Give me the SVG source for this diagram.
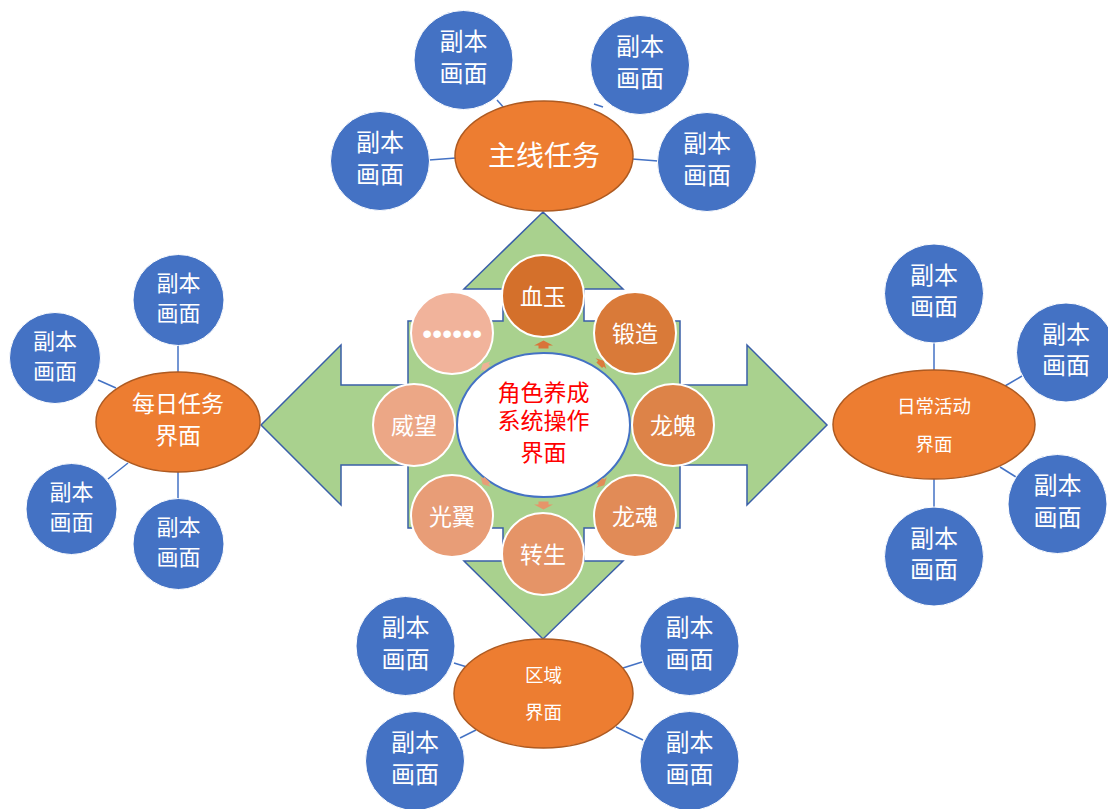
<svg xmlns="http://www.w3.org/2000/svg" width="1108" height="809" viewBox="0 0 1108 809">
<style>
  text { font-family: "Noto Sans CJK SC", "Noto Sans", sans-serif; text-anchor: middle; fill: #ffffff; }
  .blue { fill: #4472c4; stroke: #ffffff; stroke-width: 1; }
  .hub { fill: #ed7d31; stroke: #ae5a21; stroke-width: 1.5; }
  .sat { stroke: #ffffff; stroke-width: 2; }
  .link { stroke: #4472c4; stroke-width: 1.5; fill: none; }
  .b24 { font-size: 24px; }
  .b22 { font-size: 22px; }
  .s22 { font-size: 23px; }
  .red { fill: #ff0000; font-size: 23px; }
</style>
<defs>
  <polygon id="arr" points="0,-4 9.5,1 5,1 5,4 -5,4 -5,1 -9.5,1"/>
</defs>
<rect width="1108" height="809" fill="#ffffff"/>

<g id="connectors">
  <line class="link" x1="429" y1="160" x2="456" y2="158"/>
  <line class="link" x1="497" y1="100" x2="505" y2="109"/>
  <line class="link" x1="603" y1="107" x2="594" y2="104"/>
  <line class="link" x1="632" y1="159" x2="658" y2="161"/>
  <line class="link" x1="178" y1="345" x2="178" y2="372"/>
  <line class="link" x1="98" y1="380" x2="116" y2="388"/>
  <line class="link" x1="108" y1="479" x2="128" y2="463"/>
  <line class="link" x1="178" y1="472" x2="178" y2="499"/>
  <line class="link" x1="934" y1="343" x2="934" y2="370"/>
  <line class="link" x1="1005" y1="386" x2="1022" y2="376"/>
  <line class="link" x1="1000" y1="467" x2="1016" y2="477"/>
  <line class="link" x1="934" y1="479" x2="934" y2="507"/>
  <line class="link" x1="454" y1="663" x2="467" y2="667"/>
  <line class="link" x1="623" y1="668" x2="642" y2="662"/>
  <line class="link" x1="460" y1="738" x2="476" y2="730"/>
  <line class="link" x1="616" y1="727" x2="643" y2="740"/>
</g>

<g id="quad-arrow">
  <path d="M543,212 L623,289 L584,289 L584,321 L680,321 L680,385 L747,385 L747,345 L827,425 L747,505 L747,465 L680,465 L680,528 L584,528 L584,561 L623,561 L543,639 L464,561 L503,561 L503,528 L408,528 L408,465 L341,465 L341,505 L261,425 L341,345 L341,385 L408,385 L408,321 L503,321 L503,289 L464,289 Z" fill="#a9d18e" stroke="#3a5fa8" stroke-width="1.5"/>
</g>

<g id="center">
  <ellipse cx="543.5" cy="425" rx="86.5" ry="72" fill="#ffffff" stroke="#4472c4" stroke-width="2"/>
  <text class="red" x="543.5" y="401">角色养成</text>
  <text class="red" x="543.5" y="429">系统操作</text>
  <text class="red" x="543.5" y="461">界面</text>
</g>

<g id="cycle-arrows">
  <use href="#arr" fill="#d9743a" transform="translate(543.5,344.5)"/>
  <use href="#arr" fill="#dc7b3c" transform="translate(601.5,363) rotate(45) scale(0.8)"/>
  <use href="#arr" fill="#e28c58" transform="translate(602,483) rotate(135) scale(0.8)"/>
  <use href="#arr" fill="#e6956a" transform="translate(543.5,505.5) rotate(180)"/>
  <use href="#arr" fill="#e89d78" transform="translate(485,482) rotate(-135) scale(0.8)"/>
  <use href="#arr" fill="#f0b196" transform="translate(485,366) rotate(-45) scale(0.8)"/>
</g>

<g id="node-xueyu"><circle class="sat" cx="543" cy="296" r="41" fill="#d4702b"/><text class="s22" x="543" y="304.5">血玉</text></g>
<g id="node-duanzao"><circle class="sat" cx="635" cy="333" r="41" fill="#d97a39"/><text class="s22" x="635" y="341.5">锻造</text></g>
<g id="node-longpo"><circle class="sat" cx="673" cy="425" r="41" fill="#dd8348"/><text class="s22" x="673" y="433.5">龙魄</text></g>
<g id="node-longhun"><circle class="sat" cx="635" cy="516" r="41" fill="#e18b57"/><text class="s22" x="635" y="524.5">龙魂</text></g>
<g id="node-zhuansheng"><circle class="sat" cx="543" cy="554" r="41" fill="#e59467"/><text class="s22" x="543" y="562.5">转生</text></g>
<g id="node-guangyi"><circle class="sat" cx="452" cy="516" r="41" fill="#e89d77"/><text class="s22" x="452" y="524.5">光翼</text></g>
<g id="node-weiwang"><circle class="sat" cx="414" cy="425" r="41" fill="#eca786"/><text class="s22" x="414" y="433.5">威望</text></g>
<g id="node-more"><circle class="sat" cx="452" cy="333" r="41" fill="#f1b39b"/><text x="452.2" y="342.5" style="font-family:'Liberation Sans',sans-serif;font-size:28px;letter-spacing:0.2px">••••••</text></g>

<g id="hub-main"><ellipse class="hub" cx="544" cy="156" rx="89" ry="55"/><text x="544" y="165.5" style="font-size:28px">主线任务</text></g>
<g id="hub-daily"><ellipse class="hub" cx="178" cy="422" rx="82" ry="50"/><text x="178" y="412" style="font-size:23px">每日任务</text><text x="178" y="444" style="font-size:23px">界面</text></g>
<g id="hub-activity"><ellipse class="hub" cx="934" cy="424.5" rx="101" ry="54.5"/><text x="934" y="412.5" style="font-size:18.5px">日常活动</text><text x="934" y="450.5" style="font-size:18.5px">界面</text></g>
<g id="hub-region"><ellipse class="hub" cx="543.5" cy="693.5" rx="89.5" ry="54.5"/><text x="543.5" y="681.5" style="font-size:18.5px">区域</text><text x="543.5" y="718.5" style="font-size:18.5px">界面</text></g>

<g id="sub-t1"><circle class="blue" cx="463.5" cy="60" r="49.5"/><text class="b24" x="463.5" y="50">副本</text><text class="b24" x="463.5" y="81.5">画面</text></g>
<g id="sub-t2"><circle class="blue" cx="640" cy="65" r="49.5"/><text class="b24" x="640" y="55">副本</text><text class="b24" x="640" y="86.5">画面</text></g>
<g id="sub-t3"><circle class="blue" cx="380" cy="161" r="49.5"/><text class="b24" x="380" y="151">副本</text><text class="b24" x="380" y="182.5">画面</text></g>
<g id="sub-t4"><circle class="blue" cx="707" cy="162" r="49.5"/><text class="b24" x="707" y="152">副本</text><text class="b24" x="707" y="183.5">画面</text></g>

<g id="sub-l1"><circle class="blue" cx="178.5" cy="300" r="45.5"/><text class="b22" x="178.5" y="290.5">副本</text><text class="b22" x="178.5" y="321">画面</text></g>
<g id="sub-l2"><circle class="blue" cx="55" cy="358" r="45.5"/><text class="b22" x="55" y="348.5">副本</text><text class="b22" x="55" y="379">画面</text></g>
<g id="sub-l3"><circle class="blue" cx="71.5" cy="509" r="45.5"/><text class="b22" x="71.5" y="499.5">副本</text><text class="b22" x="71.5" y="530">画面</text></g>
<g id="sub-l4"><circle class="blue" cx="178.5" cy="544" r="45.5"/><text class="b22" x="178.5" y="534.5">副本</text><text class="b22" x="178.5" y="565">画面</text></g>

<g id="sub-r1"><circle class="blue" cx="934" cy="293.5" r="49.5"/><text class="b24" x="934" y="283.5">副本</text><text class="b24" x="934" y="315">画面</text></g>
<g id="sub-r2"><circle class="blue" cx="1066" cy="352.5" r="49.5"/><text class="b24" x="1066" y="342.5">副本</text><text class="b24" x="1066" y="374">画面</text></g>
<g id="sub-r3"><circle class="blue" cx="1057.5" cy="504" r="49.5"/><text class="b24" x="1057.5" y="494">副本</text><text class="b24" x="1057.5" y="525.5">画面</text></g>
<g id="sub-r4"><circle class="blue" cx="934" cy="556.5" r="49.5"/><text class="b24" x="934" y="546.5">副本</text><text class="b24" x="934" y="578">画面</text></g>

<g id="sub-b1"><circle class="blue" cx="405.5" cy="646" r="49.5"/><text class="b24" x="405.5" y="636">副本</text><text class="b24" x="405.5" y="667.5">画面</text></g>
<g id="sub-b2"><circle class="blue" cx="689.5" cy="646" r="49.5"/><text class="b24" x="689.5" y="636">副本</text><text class="b24" x="689.5" y="667.5">画面</text></g>
<g id="sub-b3"><circle class="blue" cx="415" cy="761" r="49.5"/><text class="b24" x="415" y="751">副本</text><text class="b24" x="415" y="782.5">画面</text></g>
<g id="sub-b4"><circle class="blue" cx="689.5" cy="761" r="49.5"/><text class="b24" x="689.5" y="751">副本</text><text class="b24" x="689.5" y="782.5">画面</text></g>
</svg>
